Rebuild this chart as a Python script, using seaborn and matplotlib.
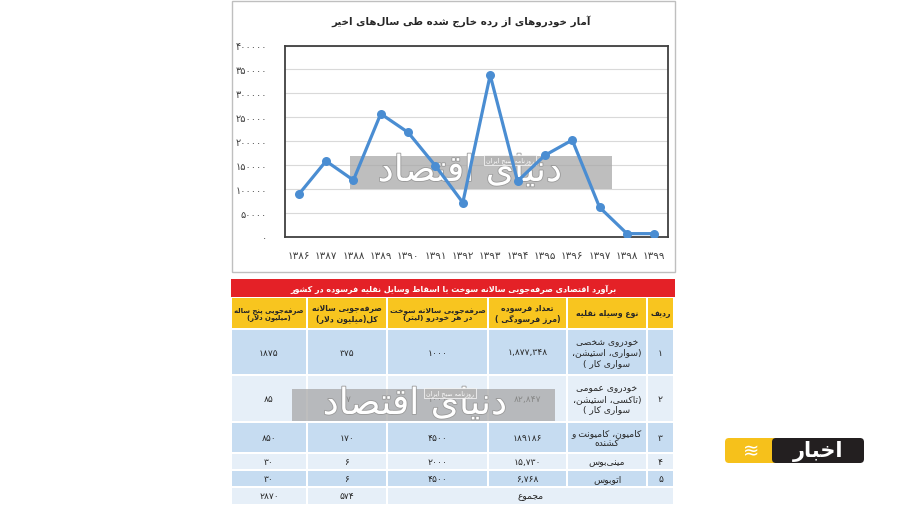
import matplotlib
matplotlib.use("Agg")
import matplotlib.pyplot as plt
import matplotlib.patheffects as pe
from matplotlib.patches import Rectangle, FancyBboxPatch
import seaborn as sns
import numpy as np
import pandas as pd

# ---------------- data ----------------
years = [1386, 1387, 1388, 1389, 1390, 1391, 1392, 1393, 1394, 1395, 1396, 1397, 1398, 1399]
removed_cars = [88000, 158000, 118000, 257000, 218000, 148000, 71000, 338000,
                116000, 170000, 202000, 61000, 6000, 6000]
y_ticks = [0, 50000, 100000, 150000, 200000, 250000, 300000, 350000, 400000]

chart_title = "آمار خودروهای از رده خارج شده طی سال‌های اخیر"
table_title = "برآورد اقتصادی صرفه‌جویی سالانه سوخت با اسقاط وسایل نقلیه فرسوده در کشور"
headers = ["ردیف", "نوع وسیله نقلیه", "تعداد فرسوده\n(مرز فرسودگی )",
           "صرفه‌جویی سالانه سوخت\nدر هر خودرو (لیتر)", "صرفه‌جویی سالانه\nکل(میلیون دلار)",
           "صرفه‌جویی پنج ساله\n(میلیون دلار)"]
row_ids = [1, 2, 3, 4, 5]
vehicle_types = ["خودروی شخصی\n(سواری، استیشن،\nسواری کار )",
                 "خودروی عمومی\n(تاکسی، استیشن،\nسواری کار )",
                 "کامیون، کامیونت و\nکشنده", "مینی‌بوس", "اتوبوس"]
worn_counts = ["1,877,348", "82,847", "189186", "15,730", "6,768"]
fuel_per_car = [1000, 1000, 4500, 2000, 4500]
annual_total = [375, 17, 170, 6, 6]
five_year_total = [1875, 85, 850, 30, 30]
total_label = "مجموع"
annual_sum = 574
five_year_sum = 2870

# ---------------- Persian shaping helpers ----------------
FORMS = {
    '\u0627': (0xFE8D, 0xFE8E, None, None), '\u0622': (0xFE81, 0xFE82, None, None),
    '\u0628': (0xFE8F, 0xFE90, 0xFE91, 0xFE92), '\u067E': (0xFB56, 0xFB57, 0xFB58, 0xFB59),
    '\u062A': (0xFE95, 0xFE96, 0xFE97, 0xFE98), '\u062B': (0xFE99, 0xFE9A, 0xFE9B, 0xFE9C),
    '\u062C': (0xFE9D, 0xFE9E, 0xFE9F, 0xFEA0), '\u0686': (0xFB7A, 0xFB7B, 0xFB7C, 0xFB7D),
    '\u062D': (0xFEA1, 0xFEA2, 0xFEA3, 0xFEA4), '\u062E': (0xFEA5, 0xFEA6, 0xFEA7, 0xFEA8),
    '\u062F': (0xFEA9, 0xFEAA, None, None), '\u0630': (0xFEAB, 0xFEAC, None, None),
    '\u0631': (0xFEAD, 0xFEAE, None, None), '\u0632': (0xFEAF, 0xFEB0, None, None),
    '\u0698': (0xFB8A, 0xFB8B, None, None),
    '\u0633': (0xFEB1, 0xFEB2, 0xFEB3, 0xFEB4), '\u0634': (0xFEB5, 0xFEB6, 0xFEB7, 0xFEB8),
    '\u0635': (0xFEB9, 0xFEBA, 0xFEBB, 0xFEBC), '\u0636': (0xFEBD, 0xFEBE, 0xFEBF, 0xFEC0),
    '\u0637': (0xFEC1, 0xFEC2, 0xFEC3, 0xFEC4), '\u0638': (0xFEC5, 0xFEC6, 0xFEC7, 0xFEC8),
    '\u0639': (0xFEC9, 0xFECA, 0xFECB, 0xFECC), '\u063A': (0xFECD, 0xFECE, 0xFECF, 0xFED0),
    '\u0641': (0xFED1, 0xFED2, 0xFED3, 0xFED4), '\u0642': (0xFED5, 0xFED6, 0xFED7, 0xFED8),
    '\u06A9': (0xFB8E, 0xFB8F, 0xFB90, 0xFB91), '\u0643': (0xFED9, 0xFEDA, 0xFEDB, 0xFEDC),
    '\u06AF': (0xFB92, 0xFB93, 0xFB94, 0xFB95), '\u0644': (0xFEDD, 0xFEDE, 0xFEDF, 0xFEE0),
    '\u0645': (0xFEE1, 0xFEE2, 0xFEE3, 0xFEE4), '\u0646': (0xFEE5, 0xFEE6, 0xFEE7, 0xFEE8),
    '\u0647': (0xFEE9, 0xFEEA, 0xFEEB, 0xFEEC), '\u0648': (0xFEED, 0xFEEE, None, None),
    '\u06CC': (0xFBFC, 0xFBFD, 0xFBFE, 0xFBFF), '\u064A': (0xFEF1, 0xFEF2, 0xFEF3, 0xFEF4),
    '\u0626': (0xFE89, 0xFE8A, 0xFE8B, 0xFE8C),
}


def _dual(c):
    return c in FORMS and FORMS[c][2] is not None


def shape(s):
    out, i, n = [], 0, len(s)
    while i < n:
        c = s[i]
        if c not in FORMS:
            if c != '\u200c':
                out.append(c)
            i += 1
            continue
        prev = s[i - 1] if i > 0 else ''
        link_prev = _dual(prev)
        if c == '\u0644' and i + 1 < n and s[i + 1] in ('\u0627', '\u0622'):
            lig = {'\u0627': (0xFEFB, 0xFEFC), '\u0622': (0xFEF5, 0xFEF6)}[s[i + 1]]
            out.append(chr(lig[1] if link_prev else lig[0]))
            i += 2
            continue
        nxt = s[i + 1] if i + 1 < n else ''
        link_next = _dual(c) and (nxt in FORMS)
        iso, fin, ini, med = FORMS[c]
        if link_prev and link_next:
            g = med
        elif link_prev:
            g = fin
        elif link_next:
            g = ini
        else:
            g = iso
        out.append(chr(g))
        i += 1
    return ''.join(out)


DIG = set('0123456789۰۱۲۳۴۵۶۷۸۹')
MIRROR = {'(': ')', ')': '('}


def visual_line(s):
    runs, i = [], 0
    while i < len(s):
        if s[i] in DIG:
            j = i
            while j < len(s) and (s[j] in DIG or (s[j] in ',.' and j + 1 < len(s) and s[j + 1] in DIG)):
                j += 1
            runs.append((True, s[i:j]))
        else:
            j = i
            while j < len(s) and s[j] not in DIG:
                j += 1
            runs.append((False, s[i:j]))
        i = j
    out = []
    for isnum, t in reversed(runs):
        out.append(t if isnum else ''.join(MIRROR.get(ch, ch) for ch in reversed(t)))
    return ''.join(out)


def fa(s):
    return '\n'.join(visual_line(shape(line)) for line in s.split('\n'))


def fd(x):
    return str(x).translate(str.maketrans('0123456789', '۰۱۲۳۴۵۶۷۸۹'))


# ---------------- figure ----------------
sns.set_style("white")
plt.rcParams['font.family'] = ['DejaVu Sans']

W, H = 900, 506
fig = plt.figure(figsize=(9, 5.06), dpi=100)
fig.patch.set_facecolor('white')
renderer = fig.canvas.get_renderer()


def frect(x0, y0, x1, y1):
    return [x0 / W, 1 - y1 / H, (x1 - x0) / W, (y1 - y0) / H]


bg = fig.add_axes([0, 0, 1, 1], zorder=0)
bg.set_xlim(0, W)
bg.set_ylim(H, 0)
bg.axis('off')

# chart outer frame
bg.add_patch(Rectangle((231.5, 1.5), 443, 271.5, fill=False, edgecolor='#BFBFBF', lw=1.0))
bg.text(461, 21, fa(chart_title), ha='center', va='center', fontsize=7.4,
        fontweight='bold', color='#262626')

ax = fig.add_axes(frect(285, 46.5, 668, 237.5), zorder=1)
df = pd.DataFrame({'year': [fd(y) for y in years], 'count': removed_cars})
sns.lineplot(data=df, x='year', y='count', ax=ax, sort=False, color='#4A8DD2',
             lw=2.3, marker='o', markersize=6.5, markeredgewidth=0, zorder=3)
ax.set_xlim(-0.5, len(years) - 0.5)
ax.set_ylim(y_ticks[0], y_ticks[-1])
ax.set_yticks(y_ticks)
ax.set_yticklabels([fd(v) for v in y_ticks])
ax.set_xlabel('')
ax.set_ylabel('')
ax.grid(axis='y', color='#D9D9D9', lw=0.8)
ax.set_axisbelow(True)
ax.tick_params(axis='y', length=0, pad=13, labelsize=7, labelcolor='#404040')
ax.tick_params(axis='x', length=0, pad=10, labelsize=7.5, labelcolor='#404040')
for s in ax.spines.values():
    s.set_visible(True)
    s.set_color('#404040')
    s.set_linewidth(1.3)

# chart watermark
ax.add_patch(Rectangle((350, 157), 262, 33, transform=bg.transData, facecolor='#A8A8A8',
                       alpha=0.75, edgecolor='none', zorder=1.5, clip_on=False))
ax.text(470, 172, fa("دنیای اقتصاد"), transform=bg.transData, ha='center', va='center',
        fontsize=26, color='white', zorder=1.6, clip_on=False,
        path_effects=[pe.withStroke(linewidth=1.2, foreground='#9A9A9A')])
ax.text(510, 161, fa("روزنامه صبح ایران"), transform=bg.transData, ha='center', va='center',
        fontsize=4.5, color='white', zorder=1.6, clip_on=False,
        bbox=dict(boxstyle='square,pad=0.3', fc='#B5B5B5', ec='white', lw=0.5))

# ---------------- table ----------------
bg.add_patch(Rectangle((231, 280), 444, 17.5, facecolor='#E42127', edgecolor='none'))
bg.text(453, 289, fa(table_title), ha='center', va='center', fontsize=5.8,
        fontweight='bold', color='white')

col_edges = [231, 307, 387, 488, 567, 647, 674]   # left -> right
row_edges = [298, 330, 376, 423, 454, 471, 488, 506]
row_colors = ['#F8C51F', '#C6DCF1', '#E6EFF8', '#C6DCF1', '#E6EFF8', '#C6DCF1', '#E6EFF8']


def cell(ci0, ci1, ri, txt, bold=False, size=7):
    x0, x1 = col_edges[ci0], col_edges[ci1]
    y0, y1 = row_edges[ri], row_edges[ri + 1]
    bg.add_patch(Rectangle((x0 + 0.8, y0 + 0.8), x1 - x0 - 1.6, y1 - y0 - 1.6,
                           facecolor=row_colors[ri], edgecolor='none'))
    if txt:
        t = bg.text((x0 + x1) / 2, (y0 + y1) / 2, txt, ha='center', va='center',
                    multialignment='center', fontsize=size, color='#262626',
                    fontweight='bold' if bold else 'normal', linespacing=1.2)
        # shrink to fit the cell width
        while t.get_window_extent(renderer=renderer).width > (x1 - x0) - 4 and size > 4:
            size -= 0.2
            t.set_fontsize(size)


# header: columns right->left
for k, h in enumerate(headers):
    ci = 5 - k
    cell(ci, ci + 1, 0, fa(h), bold=True, size=5.6)

for r in range(len(row_ids)):
    ri = r + 1
    vals = [fd(row_ids[r]), fa(vehicle_types[r]), fd(worn_counts[r]),
            fd(fuel_per_car[r]), fd(annual_total[r]), fd(five_year_total[r])]
    for k, v in enumerate(vals):
        ci = 5 - k
        cell(ci, ci + 1, ri, v, size=6.6)

cell(2, 6, 6, fa(total_label), size=6.6)
cell(1, 2, 6, fd(annual_sum), size=6.6)
cell(0, 1, 6, fd(five_year_sum), size=6.6)

# table watermark
bg.add_patch(Rectangle((292, 390), 263, 32, facecolor='#A8A8A8', alpha=0.75,
                       edgecolor='none', zorder=5))
bg.text(415, 405, fa("دنیای اقتصاد"), ha='center', va='center', fontsize=26,
        color='white', zorder=6,
        path_effects=[pe.withStroke(linewidth=1.2, foreground='#9A9A9A')])
bg.text(450, 394, fa("روزنامه صبح ایران"), ha='center', va='center', fontsize=4.5,
        color='white', zorder=6,
        bbox=dict(boxstyle='square,pad=0.3', fc='#B5B5B5', ec='white', lw=0.5))

# ---------------- logo ----------------
bg.add_patch(FancyBboxPatch((725, 439), 60, 25, boxstyle='round,pad=0,rounding_size=4',
                            facecolor='#F6C11B', edgecolor='none'))
bg.add_patch(FancyBboxPatch((772, 439), 92, 25, boxstyle='round,pad=0,rounding_size=4',
                            facecolor='#231F20', edgecolor='none'))
bg.text(818, 451.5, fa("اخبار"), ha='center', va='center', fontsize=15,
        fontweight='bold', color='white')
bg.text(751, 451.5, "≋", ha='center', va='center', fontsize=14, color='white')

fig.savefig('out.png', dpi=100, facecolor='white')
